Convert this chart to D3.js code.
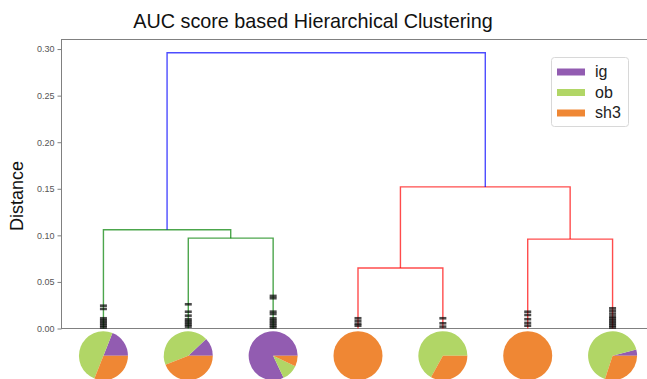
<!DOCTYPE html>
<html>
<head>
<meta charset="utf-8">
<script src="https://cdn.jsdelivr.net/npm/d3@7/dist/d3.min.js"></script>
<style>
  html, body { margin: 0; padding: 0; background: #fff; overflow: hidden; }
  svg { display: block; font-family: "Liberation Sans", Arial, sans-serif; }
</style>
</head>
<body>
<svg id="chart" width="647" height="379"></svg>
<script>
// Leaf clusters in dendrogram order (scipy-style leaf slots at 5, 15, 25, ...)
const leaves = ["c1", "c2", "c3", "c4", "c5", "c6", "c7"];
const leafX = [5, 15, 25, 35, 45, 55, 65];

// Merge steps: [left child, right child, distance, link colour]
// children are leaf indices or "m<k>" for an earlier merge
const merges = [
  ["1", "2", 0.097, "g"],
  ["0", "m0", 0.106, "g"],
  ["3", "4", 0.065, "r"],
  ["5", "6", 0.096, "r"],
  ["m2", "m3", 0.152, "r"],
  ["m1", "m4", 0.296, "b"]
];

// Small within-cluster merge distances drawn as ticks at each leaf
const innerDist = [
  [0.0245, 0.021, 0.011, 0.009, 0.007, 0.005, 0.003, 0.001],
  [0.026, 0.018, 0.0138, 0.010, 0.008, 0.006, 0.004, 0.002],
  [0.035, 0.0325, 0.0181, 0.0156, 0.011, 0.009, 0.007, 0.005, 0.003, 0.001],
  [0.011, 0.008, 0.005, 0.003],
  [0.011, 0.0056, 0.002],
  [0.018, 0.0145, 0.010, 0.006, 0.003],
  [0.0217, 0.019, 0.016, 0.013, 0.011, 0.009, 0.007, 0.005, 0.003, 0.001]
];

// Composition of each cluster
const groups = ["ig", "ob", "sh3"];
const igShare  = [0.19, 0.12, 0.82, 0, 0, 0, 0.04];
const obShare  = [0.50, 0.44, 0.11, 0, 0.67, 0, 0.66];
const sh3Share = [0.31, 0.44, 0.07, 1, 0.33, 1, 0.30];

const yTicks = [0, 0.05, 0.10, 0.15, 0.20, 0.25, 0.30];

const groupColor = { ig: "#925cb1", ob: "#b1d666", sh3: "#ef8734" };
const linkColor = { g: "#008000", r: "#ff0000", b: "#0000ff" };

(function draw() {
  const svg = d3.select("#chart");
  const plotLeft = 61, plotRight = 655, plotTop = 39, plotBottom = 328.5;

  const x = d3.scaleLinear().domain([0, 70]).range([plotLeft, plotRight]);
  const y = d3.scaleLinear().domain([0, 0.3108]).range([plotBottom, plotTop]);

  // Title
  svg.append("text")
    .attr("x", 313).attr("y", 28)
    .attr("text-anchor", "middle")
    .attr("font-size", 19.8)
    .attr("fill", "#111")
    .text("AUC score based Hierarchical Clustering");

  // Y axis label
  svg.append("text")
    .attr("transform", "translate(23,196) rotate(-90)")
    .attr("text-anchor", "middle")
    .attr("font-size", 18)
    .attr("fill", "#111")
    .text("Distance");

  // Frame: top, left and bottom spines
  const frame = svg.append("g").attr("stroke", "#808080").attr("stroke-width", 1).attr("fill", "none");
  frame.append("line").attr("x1", plotLeft).attr("x2", 647).attr("y1", plotTop + 0.5).attr("y2", plotTop + 0.5);
  frame.append("line").attr("x1", plotLeft + 0.5).attr("x2", plotLeft + 0.5).attr("y1", plotTop).attr("y2", plotBottom);
  frame.append("line").attr("x1", plotLeft).attr("x2", 647).attr("y1", plotBottom).attr("y2", plotBottom);

  // Y axis ticks and labels
  const yAxis = d3.axisLeft(y).tickValues(yTicks).tickFormat(d3.format(".2f")).tickSize(4).tickPadding(3);
  const yg = svg.append("g").attr("transform", `translate(${plotLeft + 0.5},0)`).call(yAxis);
  yg.select(".domain").remove();
  yg.selectAll(".tick line").attr("stroke", "#808080");
  yg.selectAll(".tick text").attr("fill", "#555").attr("font-size", 9)
    .attr("font-family", "'Liberation Sans', Arial, sans-serif");

  // Dendrogram links
  const nodePos = {};
  leaves.forEach((_, i) => { nodePos[String(i)] = { x: leafX[i], h: 0 }; });
  const linkG = svg.append("g").attr("fill", "none").attr("stroke-width", 1.4).attr("stroke-opacity", 0.7);
  merges.forEach((m, k) => {
    const a = nodePos[m[0]], b = nodePos[m[1]], h = m[2];
    const p = d3.path();
    p.moveTo(x(a.x), y(a.h));
    p.lineTo(x(a.x), y(h));
    p.lineTo(x(b.x), y(h));
    p.lineTo(x(b.x), y(b.h));
    linkG.append("path").attr("d", p.toString()).attr("stroke", linkColor[m[3]]);
    nodePos["m" + k] = { x: (a.x + b.x) / 2, h: h };
  });

  // Inner merge ticks at each leaf
  const tickG = svg.append("g").attr("fill", "#000").attr("fill-opacity", 0.7);
  innerDist.forEach((ds, i) => {
    ds.forEach(d => {
      tickG.append("rect")
        .attr("x", x(leafX[i]) - 3.5).attr("y", y(d) - 1.3)
        .attr("width", 7).attr("height", 2.6);
    });
  });

  // Composition pies under each leaf (counter-clockwise from 3 o'clock)
  const pie = d3.pie().sort(null).value(d => d.v)
    .startAngle(Math.PI / 2).endAngle(Math.PI / 2 - 2 * Math.PI);
  const arc = d3.arc().innerRadius(0).outerRadius(24.5);
  leaves.forEach((name, i) => {
    const data = [
      { g: "ig", v: igShare[i] },
      { g: "ob", v: obShare[i] },
      { g: "sh3", v: sh3Share[i] }
    ];
    const pg = svg.append("g").attr("transform", `translate(${x(leafX[i])},355.7)`);
    pg.selectAll("path").data(pie(data).filter(d => d.data.v > 0)).join("path")
      .attr("d", arc).attr("fill", d => groupColor[d.data.g]);
  });

  // Legend
  const lg = svg.append("g");
  lg.append("rect").attr("x", 551.5).attr("y", 57.5).attr("width", 77).attr("height", 69)
    .attr("rx", 3).attr("fill", "#fff").attr("stroke", "#d8d8d8");
  groups.forEach((g, i) => {
    const cy = 72 + i * 20.5;
    lg.append("rect").attr("x", 557).attr("y", cy - 3.5).attr("width", 28).attr("height", 7)
      .attr("fill", groupColor[g]);
    lg.append("text").attr("x", 595).attr("y", cy + 5).attr("font-size", 16).attr("fill", "#222").text(g);
  });
})();
</script>
</body>
</html>
